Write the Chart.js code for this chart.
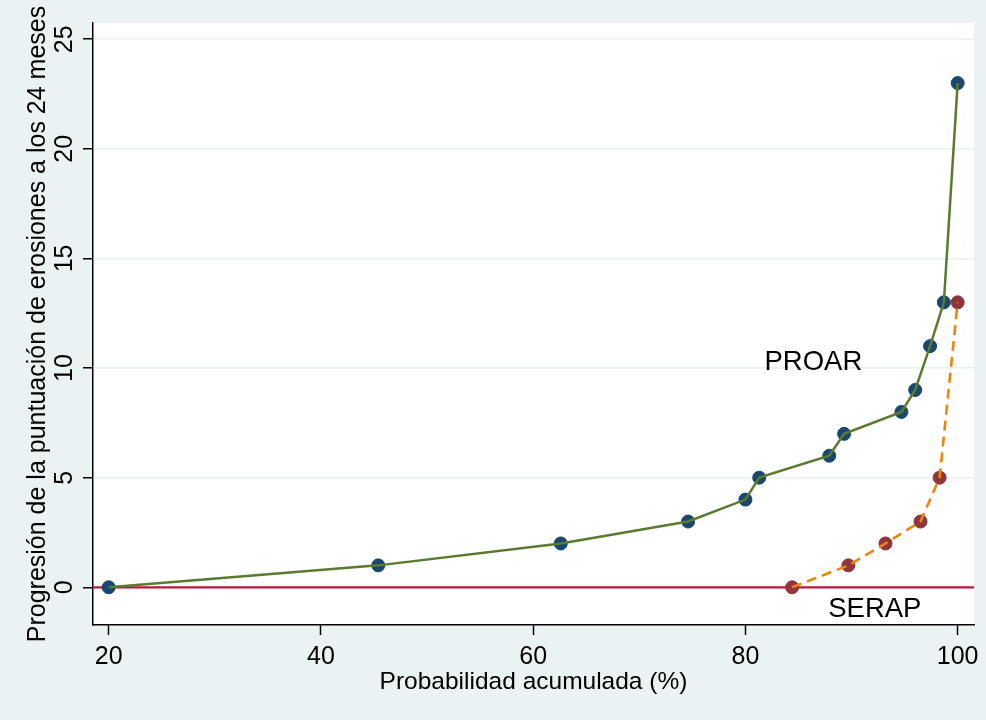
<!DOCTYPE html>
<html>
<head>
<meta charset="utf-8">
<script src="https://cdn.jsdelivr.net/npm/chart.js@4.4.1/dist/chart.umd.min.js"></script>
<style>
  html, body { margin: 0; padding: 0; background: #eaf2f3; }
  #wrap { width: 986px; height: 720px; }
</style>
</head>
<body>
<div id="wrap"><canvas id="chart" width="986" height="720"></canvas></div>
<script>
// Data
const proarX = [20, 45.4, 62.6, 74.6, 80.0, 81.3, 87.9, 89.3, 94.7, 96.0, 97.4, 98.7, 100];
const proarY = [0, 1, 2, 3, 4, 5, 6, 7, 8, 9, 11, 13, 23];
const serapX = [84.4, 89.7, 93.2, 96.5, 98.3, 100];
const serapY = [0, 1, 2, 3, 5, 13];
const xTicks = [20, 40, 60, 80, 100];
const yTicks = [0, 5, 10, 15, 20, 25];
const xTitle = 'Probabilidad acumulada (%)';
const yTitle = 'Progresión de la puntuación de erosiones a los 24 meses';
const seriesNames = ['PROAR', 'SERAP'];
const nameAnchors = [[81.8, 9.9], [87.8, -1.35]]; // donde va el texto (coordenadas de datos)

const FONT = "'Liberation Sans', Arial, sans-serif";
const toPts = (xs, ys) => xs.map((x, i) => ({ x: x, y: ys[i] }));

// Fondo, línea de cero y textos propios
const extras = {
    id: 'extras',
    beforeDraw(c) {
        const ctx = c.ctx, a = c.chartArea;
        ctx.save();
        ctx.fillStyle = '#eaf2f3';
        ctx.fillRect(0, 0, c.width, c.height);
        ctx.fillStyle = '#ffffff';
        ctx.fillRect(a.left, a.top, a.right - a.left, a.bottom - a.top);
        ctx.restore();
    },
    beforeDatasetsDraw(c) {
        // línea de referencia en y = 0
        const ctx = c.ctx, a = c.chartArea;
        const y0 = c.scales.y.getPixelForValue(0);
        ctx.save();
        ctx.strokeStyle = '#c0143c';
        ctx.lineWidth = 2.2;
        ctx.beginPath();
        ctx.moveTo(a.left, y0);
        ctx.lineTo(a.right, y0);
        ctx.stroke();
        ctx.restore();
    },
    afterDraw(c) {
        const ctx = c.ctx, sx = c.scales.x, sy = c.scales.y, a = c.chartArea;
        ctx.save();
        ctx.fillStyle = '#000';
        ctx.font = '25px ' + FONT;
        // etiquetas verticales del eje y
        yTicks.forEach(v => {
            ctx.save();
            ctx.translate(72, sy.getPixelForValue(v));
            ctx.rotate(-Math.PI / 2);
            ctx.textAlign = 'center';
            ctx.textBaseline = 'alphabetic';
            ctx.fillText(String(v), 0, 0);
            ctx.restore();
        });
        // título del eje y, centrado en el área del gráfico
        ctx.save();
        ctx.font = '25px ' + FONT;
        ctx.translate(45, (a.top + a.bottom) / 2);
        ctx.rotate(-Math.PI / 2);
        ctx.textAlign = 'center';
        ctx.textBaseline = 'alphabetic';
        ctx.fillText(yTitle, 0, 0);
        ctx.restore();
        // nombres de las series
        ctx.font = '27.5px ' + FONT;
        ctx.textAlign = 'left';
        ctx.textBaseline = 'alphabetic';
        seriesNames.forEach((n, i) => {
            ctx.fillText(n, sx.getPixelForValue(nameAnchors[i][0]), sy.getPixelForValue(nameAnchors[i][1]));
        });
        ctx.restore();
    }
};

const ctx = document.getElementById('chart').getContext('2d');
const chart = new Chart(ctx, {
    type: 'scatter',
    data: {
        datasets: [
            {   // SERAP línea (arriba)
                data: toPts(serapX, serapY),
                showLine: true,
                borderColor: '#e8870c',
                borderWidth: 2.6,
                borderDash: [10, 6],
                pointRadius: 0,
                order: 0
            },
            {   // PROAR línea
                data: toPts(proarX, proarY),
                showLine: true,
                borderColor: '#5a7a30',
                borderWidth: 2.5,
                pointRadius: 0,
                order: 1
            },
            {   // SERAP marcadores
                data: toPts(serapX, serapY),
                showLine: false,
                pointRadius: 6.5,
                pointBackgroundColor: '#90353b',
                pointBorderColor: '#90353b',
                pointBorderWidth: 1,
                order: 2
            },
            {   // PROAR marcadores
                data: toPts(proarX, proarY),
                showLine: false,
                pointRadius: 6.5,
                pointBackgroundColor: '#1a476f',
                pointBorderColor: '#1a476f',
                pointBorderWidth: 1,
                order: 3
            }
        ]
    },
    options: {
        responsive: false,
        animation: false,
        events: [],
        layout: { padding: { left: 0, top: 23, right: 12, bottom: 0 } },
        plugins: {
            legend: { display: false },
            tooltip: { enabled: false }
        },
        scales: {
            x: {
                type: 'linear',
                min: 18.52,
                max: 101.54,
                afterBuildTicks: s => { s.ticks = xTicks.map(v => ({ value: v })); },
                afterFit: s => { s.height = 95; },
                border: { display: true, color: '#000', width: 1.5 },
                grid: { drawOnChartArea: false, tickColor: '#000', tickLength: 10, tickWidth: 1.5 },
                ticks: { color: '#000', padding: 7, maxRotation: 0, font: { size: 25, family: FONT } },
                title: {
                    display: true,
                    text: xTitle,
                    color: '#000',
                    font: { size: 24.5, family: FONT },
                    padding: { top: 0, bottom: 23 }
                }
            },
            y: {
                type: 'linear',
                min: -1.72,
                max: 25.74,
                afterBuildTicks: s => { s.ticks = yTicks.map(v => ({ value: v })); },
                afterFit: s => { s.width = 93; },
                border: { display: true, color: '#000', width: 1.5 },
                grid: { color: '#e6eff1', lineWidth: 1.5, tickColor: '#000', tickLength: 10, tickWidth: 1.5 },
                ticks: { color: 'rgba(0,0,0,0)', font: { size: 24, family: FONT } }
            }
        }
    },
    plugins: [extras]
});
</script>
</body>
</html>
